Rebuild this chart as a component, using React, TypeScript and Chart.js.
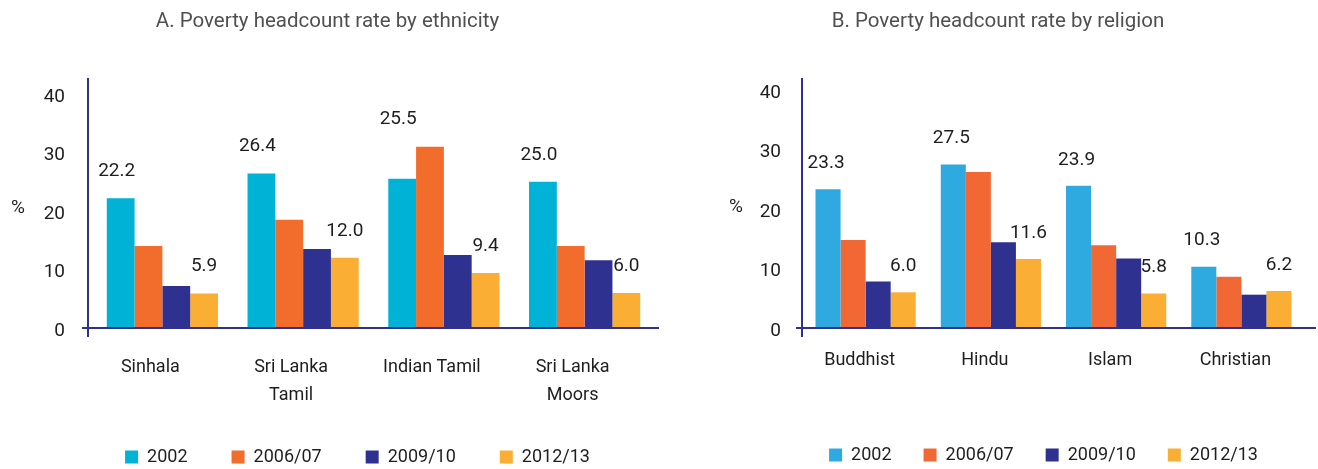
import React, { useEffect, useRef } from 'react';
import { Chart, registerables } from 'chart.js';

Chart.register(...registerables);

const seriesLabels = ['2002', '2006/07', '2009/10', '2012/13'];

const ethnicityCategories = [['Sinhala'], ['Sri Lanka', 'Tamil'], ['Indian Tamil'], ['Sri Lanka', 'Moors']];
const eth2002 = [22.2, 26.4, 25.5, 25.0];
const eth2006 = [14.0, 18.5, 31.0, 14.0];
const eth2009 = [7.2, 13.5, 12.5, 11.6];
const eth2012 = [5.9, 12.0, 9.4, 6.0];

const religionCategories = ['Buddhist', 'Hindu', 'Islam', 'Christian'];
const rel2002 = [23.3, 27.5, 23.9, 10.3];
const rel2006 = [14.8, 26.2, 13.9, 8.6];
const rel2009 = [7.8, 14.4, 11.7, 5.6];
const rel2012 = [6.0, 11.6, 5.8, 6.2];

const yTicks = [0, 10, 20, 30, 40];

const FONT = "Roboto, 'DejaVu Sans Condensed', sans-serif";
const AXIS_COLOR = '#2e3190';
const TEXT_COLOR = '#1e1e1e';

const decorPlugin = {
  id: 'decor',
  afterLayout(chart: any, _args: any, opts: any) {
    const lg = chart.legend;
    if (lg && opts.legendDx) {
      lg.left += opts.legendDx;
      lg.right += opts.legendDx;
    }
  },
  afterDatasetsDraw(chart: any, _args: any, opts: any) {
    const { ctx, chartArea } = chart;
    const yScale = chart.scales.y;
    const zeroY = yScale.getPixelForValue(0);
    const axisX = chartArea.left + opts.yAxisShift;
    ctx.save();
    ctx.strokeStyle = AXIS_COLOR;
    ctx.lineWidth = 2;
    ctx.beginPath();
    ctx.moveTo(axisX, chartArea.top + opts.yAxisTopShift);
    ctx.lineTo(axisX, zeroY + 9);
    ctx.moveTo(axisX - 6, zeroY);
    ctx.lineTo(chartArea.right + opts.xAxisExtend, zeroY);
    ctx.stroke();

    ctx.fillStyle = TEXT_COLOR;
    ctx.font = `19px ${FONT}`;
    ctx.textAlign = 'center';
    ctx.textBaseline = 'middle';
    ctx.fillText('%', chartArea.left - opts.percentDx, opts.percentY);

    const m0 = chart.getDatasetMeta(0);
    const m1 = chart.getDatasetMeta(1);
    const m3 = chart.getDatasetMeta(3);
    const d0 = chart.data.datasets[0].data;
    const d3 = chart.data.datasets[3].data;
    m0.data.forEach((bar: any, j: number) => {
      const top = Math.min(bar.y, m1.data[j].y);
      ctx.fillText(Number(d0[j]).toFixed(1), bar.x + opts.firstLabelDx, top - opts.labelGap);
    });
    m3.data.forEach((bar: any, j: number) => {
      ctx.fillText(Number(d3[j]).toFixed(1), bar.x, bar.y - opts.labelGap);
    });
    ctx.restore();
  },
};

type PanelProps = {
  title: string;
  categories: any[];
  series: number[][];
  colors: string[];
  cfg: any;
};

function Panel({ title, categories, series, colors, cfg }: PanelProps) {
  const ref = useRef<HTMLCanvasElement | null>(null);
  useEffect(() => {
    if (!ref.current) return;
    const chart = new Chart(ref.current, {
      type: 'bar',
      data: {
        labels: categories,
        datasets: series.map((s, i) => ({
          label: seriesLabels[i],
          data: s,
          backgroundColor: colors[i],
          borderWidth: 0,
          barPercentage: 1,
          categoryPercentage: cfg.catPct,
        })),
      },
      options: {
        responsive: false,
        animation: false,
        devicePixelRatio: 1,
        layout: { padding: { left: cfg.padLeft, right: cfg.padRight, top: 0, bottom: cfg.padBottom } },
        plugins: {
          title: {
            display: true,
            text: title,
            color: '#505050',
            font: { family: FONT, size: 20.5, weight: 'normal', lineHeight: 1.2 },
            padding: { top: 9.7, bottom: cfg.titleBottom },
          },
          legend: {
            display: true,
            position: 'bottom',
            fullSize: false,
            labels: {
              boxWidth: 13,
              boxHeight: 13,
              padding: cfg.legendPad,
              color: TEXT_COLOR,
              font: { family: FONT, size: 18 },
            },
          },
          tooltip: { enabled: false },
          decor: cfg.decor,
        } as any,
        scales: {
          x: {
            grid: { display: false, drawTicks: false },
            border: { display: false },
            ticks: {
              color: TEXT_COLOR,
              font: { family: FONT, size: 18, lineHeight: 1.555 },
              padding: cfg.xTickPad,
              labelOffset: cfg.labelOffset,
              maxRotation: 0,
              autoSkip: false,
            },
            afterFit: (s: any) => { s.height = cfg.xHeight; },
          },
          y: {
            min: 0,
            max: 40,
            grid: { display: false, drawTicks: false },
            border: { display: false },
            afterBuildTicks: (s: any) => { s.ticks = yTicks.map((v) => ({ value: v })); },
            ticks: {
              color: TEXT_COLOR,
              font: { family: FONT, size: 19 },
              padding: cfg.yTickPad,
              labelOffset: 3,
            },
            afterFit: (s: any) => { s.width = cfg.yWidth; },
          },
        },
      },
      plugins: [decorPlugin],
    });
    return () => chart.destroy();
  }, []);
  return <canvas ref={ref} width={659} height={480} style={{ display: 'block', width: 659, height: 480 }} />;
}

const leftColors = ['#00b2d6', '#f26c2b', '#2e3190', '#fbae34'];
const rightColors = ['#2eaae1', '#f26835', '#2e3190', '#fbae34'];

const leftCfg = {
  catPct: 0.79,
  padLeft: 0,
  padRight: 4,
  padBottom: 4,
  titleBottom: 59.7,
  legendPad: 44,
  xTickPad: 26,
  labelOffset: -12,
  xHeight: 76,
  yTickPad: 27,
  yWidth: 92,
  decor: { legendDx: -16, yAxisShift: -4, yAxisTopShift: -16, xAxisExtend: 20, percentDx: 74, percentY: 208, firstLabelDx: -4, labelGap: 27 },
};

const rightCfg = {
  catPct: 0.8,
  padLeft: 33,
  padRight: 14,
  padBottom: 6,
  titleBottom: 55.7,
  legendPad: 32,
  xTickPad: 19,
  labelOffset: -6,
  xHeight: 86,
  yTickPad: 22,
  yWidth: 111,
  decor: { legendDx: -10, yAxisShift: -1, yAxisTopShift: -12, xAxisExtend: 12, percentDx: 67, percentY: 207, firstLabelDx: -2, labelGap: 26 },
};

export default function App() {
  useEffect(() => {
    document.body.style.margin = '0';
  }, []);
  return (
    <div style={{ width: 1318, height: 469, overflow: 'hidden', display: 'flex', background: '#ffffff' }}>
      <Panel
        title="A. Poverty headcount rate by ethnicity"
        categories={ethnicityCategories}
        series={[eth2002, eth2006, eth2009, eth2012]}
        colors={leftColors}
        cfg={leftCfg}
      />
      <Panel
        title="B. Poverty headcount rate by religion"
        categories={religionCategories}
        series={[rel2002, rel2006, rel2009, rel2012]}
        colors={rightColors}
        cfg={rightCfg}
      />
    </div>
  );
}
